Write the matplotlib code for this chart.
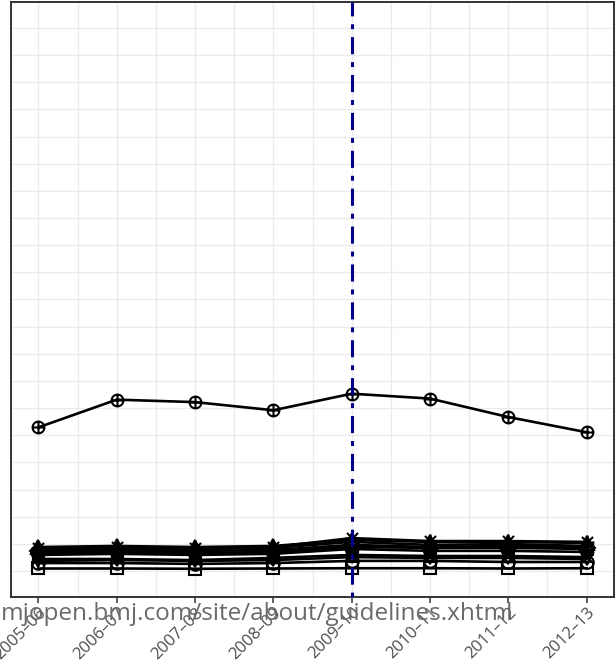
import matplotlib
matplotlib.use("Agg")
import matplotlib.pyplot as plt
from matplotlib.path import Path
import numpy as np

# ---- data ----
years = ["2005–06", "2006–07", "2007–08", "2008–09", "2009–10", "2010–11", "2011–12", "2012–13"]
s_square = [10.9, 10.9, 10.8, 10.9, 11.0, 11.0, 10.9, 11.0]
s_circle = [12.9, 12.9, 12.6, 12.9, 13.7, 13.7, 13.3, 13.3]
s_triangle = [18.8, 19.2, 18.8, 19.2, 21.4, 20.7, 20.7, 20.3]
s_plus = [15.9, 16.3, 15.9, 16.3, 18.1, 17.4, 17.4, 17.0]
s_cross = [14.4, 14.4, 14.0, 14.8, 15.9, 15.5, 15.5, 15.1]
s_diamond = [17.4, 17.4, 17.4, 17.7, 19.6, 18.8, 19.2, 18.5]
s_tridown = [13.7, 14.0, 13.7, 14.0, 15.1, 14.8, 14.8, 14.4]
s_squarex = [16.6, 17.0, 16.6, 17.0, 18.8, 18.5, 18.5, 18.1]
s_asterisk = [18.5, 18.8, 18.5, 18.8, 22.1, 21.0, 21.0, 20.7]
s_diaplus = [18.1, 18.1, 18.1, 18.5, 20.7, 19.6, 19.9, 19.2]
s_circleplus = [62.9, 73.1, 72.2, 69.2, 75.3, 73.5, 66.7, 61.1]
policy_year = "2009–10"
watermark = "mjopen.bmj.com/site/about/guidelines.xhtml"

# ---- custom markers ----
M, L = Path.MOVETO, Path.LINETO
def seg(a, b):
    return Path([a, b], [M, L])
circ = Path.unit_circle()
sq = Path([[-1, -1], [1, -1], [1, 1], [-1, 1], [-1, -1]], [M, L, L, L, Path.CLOSEPOLY])
dia = Path([[0, -1.3], [1.3, 0], [0, 1.3], [-1.3, 0], [0, -1.3]], [M, L, L, L, Path.CLOSEPOLY])
m_circleplus = Path.make_compound_path(circ, seg([-1, 0], [1, 0]), seg([0, -1], [0, 1]))
m_squarex = Path.make_compound_path(sq, seg([-1, -1], [1, 1]), seg([-1, 1], [1, -1]))
m_diaplus = Path.make_compound_path(dia, seg([-1.3, 0], [1.3, 0]), seg([0, -1.3], [0, 1.3]))
m_asterisk = Path.make_compound_path(seg([-1, 0], [1, 0]), seg([0, -1], [0, 1]),
                                     seg([-0.8, -0.8], [0.8, 0.8]), seg([-0.8, 0.8], [0.8, -0.8]))

series = [
    (s_square, "s", 8),
    (s_circle, "o", 9),
    (s_tridown, "v", 9),
    (s_cross, "x", 8),
    (s_plus, "+", 10),
    (s_squarex, m_squarex, 8),
    (s_diamond, "D", 8),
    (s_diaplus, m_diaplus, 9),
    (s_triangle, "^", 9.5),
    (s_asterisk, m_asterisk, 10),
    (s_circleplus, m_circleplus, 8.5),
]

W, H = 615, 669
fig = plt.figure(figsize=(W / 100, H / 100), dpi=100)
ax = fig.add_axes([11 / W, (H - 597) / H, (614 - 11) / W, (597 - 2) / H])
ax.set_facecolor("white")

x = np.arange(1, len(years) + 1)
ax.set_xlim(0.65, len(years) + 0.35)
ax.set_ylim(0.4, 219.6)

# grid
for gx in np.arange(1, len(years) + 0.01, 0.5):
    ax.axvline(gx, color="#EBEBEB", lw=1.0, zorder=0)
for gy in np.arange(10, 211, 10):
    ax.axhline(gy, color="#EBEBEB", lw=1.0, zorder=0)

for vals, mk, ms in series:
    ax.plot(x, vals, color="black", lw=1.9, marker=mk, markersize=ms,
            markerfacecolor="none", markeredgecolor="black", markeredgewidth=1.5,
            zorder=3)

vx = years.index(policy_year) + 1
ax.axvline(vx, color="#00008B", lw=2.2, dashes=(1.6, 2.6, 5.6, 2.6), zorder=5)

ax.set_xticks(x)
ax.set_xticklabels(years, rotation=45, ha="right", va="top", rotation_mode="anchor",
                   fontsize=12, color="#4D4D4D", family="Open Sans")
ax.tick_params(axis="x", length=4, width=1.1, color="#333333", pad=1.5)
ax.set_yticks([])
for sp in ax.spines.values():
    sp.set_color("#333333")
    sp.set_linewidth(1.4)

fig.text(1 / W, (H - 614) / H, watermark, fontsize=17.5, color="#6A6A6A",
         family="Open Sans", ha="left", va="center", zorder=10)

fig.savefig("out.png", dpi=100)
